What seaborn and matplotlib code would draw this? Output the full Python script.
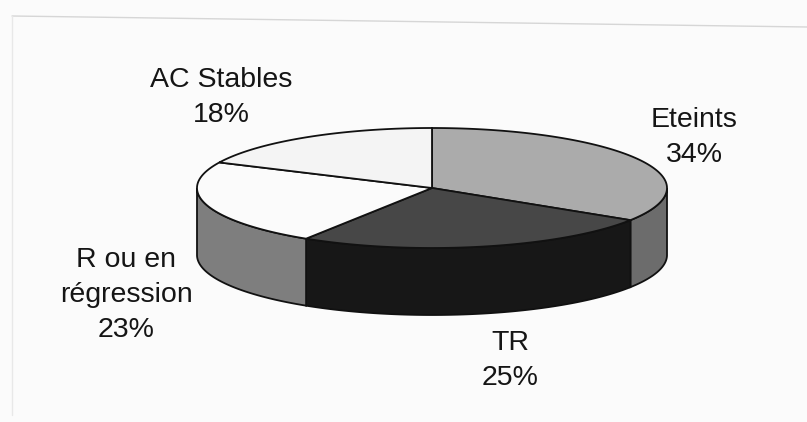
import numpy as np
import matplotlib
matplotlib.use('Agg')
import matplotlib.pyplot as plt
import seaborn as sns

sns.set_theme(style='white')
plt.rcParams['font.family'] = ['Liberation Sans', 'DejaVu Sans']

# slices, clockwise from 12 o'clock
labels = ['Eteints', 'TR', 'R ou en\nrégression', 'AC Stables']
shares = [34, 25, 23, 18]
top_colors = ['#ababab', '#474747', '#fbfbfb', '#f4f4f4']
side_colors = ['#6c6c6c', '#171717', '#7e7e7e', '#8a8a8a']
# (x centre, baseline of first line) in pixels
label_pos = [(694, 127), (510, 350), (126, 267), (221, 87)]

W, H = 807, 422
cx, cy, rx, ry, depth = 432, 188, 235, 60, 67
line_gap = 35

fig = plt.figure(figsize=(W / 100, H / 100), dpi=100, facecolor='#fbfbfb')
ax = fig.add_axes([0, 0, 1, 1])
ax.set_xlim(0, W)
ax.set_ylim(H, 0)
ax.axis('off')

# faint edge of the scanned page
ax.plot([12, W], [16, 27], color='#d6d6d6', lw=1)
ax.plot([12, 12], [16, 415], color='#e8e8e8', lw=1)

frac = np.array(shares) / sum(shares)
edges = 90 - 360 * np.concatenate([[0], np.cumsum(frac)])


def arc(t0, t1, dy=0, n=120):
    t = np.radians(np.linspace(t0, t1, n))
    return cx + rx * np.cos(t), cy - ry * np.sin(t) + dy


# outer walls (only the front half shows)
for i in range(len(shares)):
    lo = max(edges[i + 1], -180)
    hi = min(edges[i], 0)
    if lo >= hi:
        continue
    xt, yt = arc(hi, lo)
    xb, yb = arc(lo, hi, dy=depth)
    ax.fill(np.r_[xt, xb], np.r_[yt, yb], facecolor=side_colors[i],
            edgecolor='#111111', lw=1.3, zorder=2)

# top faces
for i in range(len(shares)):
    xa, ya = arc(edges[i], edges[i + 1])
    ax.fill(np.r_[cx, xa], np.r_[cy, ya], facecolor=top_colors[i],
            edgecolor='#111111', lw=1.3, zorder=3)

for lab, s, (x, y) in zip(labels, shares, label_pos):
    lines = lab.split('\n') + [f'{s}%']
    for k, ln in enumerate(lines):
        ax.text(x, y + k * line_gap, ln, ha='center', va='baseline',
                fontsize=20.5, color='#151515')

fig.savefig('out.png', dpi=100, facecolor=fig.get_facecolor())
